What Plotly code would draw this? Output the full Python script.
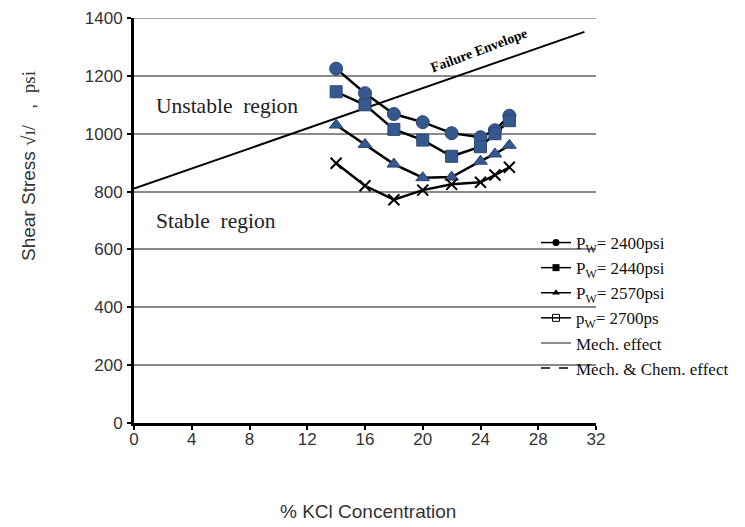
import plotly.graph_objects as go

kcl = [14, 16, 18, 20, 22, 24, 25, 26]
pw2400 = [1225, 1140, 1068, 1040, 1002, 988, 1012, 1062]
pw2440 = [1145, 1100, 1015, 978, 922, 955, 1000, 1045]
pw2570 = [1030, 963, 895, 848, 850, 905, 930, 960]
pw2700 = [898, 820, 772, 805, 825, 832, 857, 884]
env_x = [0, 31.2]
env_y = [810, 1352]

x_ticks = [0, 4, 8, 12, 16, 20, 24, 28, 32]
y_ticks = [0, 200, 400, 600, 800, 1000, 1200, 1400]

L, R, T, B = 134, 149, 18, 104
W, H = 745, 527
pw = W - L - R
ph = H - T - B

fig = go.Figure()

blue = "#35598F"
fig.add_trace(go.Scatter(x=env_x, y=env_y, mode="lines", line=dict(color="black", width=2), showlegend=False))
for ys, sym, sz in [(pw2400, "circle", 13), (pw2440, "square", 12), (pw2570, "triangle-up", 12)]:
    fig.add_trace(go.Scatter(x=kcl, y=ys, mode="lines+markers", showlegend=False,
                             line=dict(color="black", width=2.5),
                             marker=dict(symbol=sym, size=sz, color=blue, line=dict(color="#2a4670", width=1))))
fig.add_trace(go.Scatter(x=kcl, y=pw2700, mode="lines+markers", showlegend=False,
                         line=dict(color="black", width=2.5),
                         marker=dict(symbol="x-thin", size=11, color="black", line=dict(color="black", width=2))))

# legend entries
leg = [("P<sub>W</sub>= 2400psi", "circle"),
       ("P<sub>W</sub>= 2440psi", "square"),
       ("P<sub>W</sub>= 2570psi", "triangle-up"),
       ("p<sub>W</sub>= 2700ps", "square-open")]
for name, sym in leg:
    fig.add_trace(go.Scatter(x=[None], y=[None], mode="lines+markers", name=name,
                             line=dict(color="black", width=1.5),
                             marker=dict(symbol=sym, size=7, color="black")))
fig.add_trace(go.Scatter(x=[None], y=[None], mode="lines", name="Mech. effect",
                         line=dict(color="#888888", width=2)))
fig.add_trace(go.Scatter(x=[None], y=[None], mode="lines", name="Mech. &amp; Chem. effect",
                         line=dict(color="black", width=1.5, dash="dash")))

fig.update_layout(
    width=W, height=H, margin=dict(l=L, r=R, t=T, b=B, autoexpand=False),
    plot_bgcolor="white", paper_bgcolor="white",
    font=dict(family="Liberation Sans, Arial", size=17, color="#333333"),
    legend=dict(x=(536 - L) / pw, y=(423 - 225) / ph, xanchor="left", yanchor="top",
                bgcolor="rgba(0,0,0,0)", tracegroupgap=0, itemwidth=30,
                font=dict(family="Liberation Serif, Times New Roman", size=17, color="#111111")),
    xaxis=dict(range=[0, 32], tickvals=x_ticks, showgrid=False, zeroline=False,
               showline=True, linecolor="black", linewidth=3, ticks="outside",
               ticklen=4, tickwidth=2, tickcolor="black", ticklabelstandoff=0, fixedrange=True),
    yaxis=dict(range=[0, 1400], tickvals=y_ticks, showgrid=True, gridcolor="#8a8a8a",
               gridwidth=1.5, zeroline=False, showline=True, linecolor="black", linewidth=3,
               ticks="outside", ticklen=4, tickwidth=2, tickcolor="black", ticklabelstandoff=1),
)
try:
    fig.update_xaxes(ticklabelstandoff=-5)
except Exception:
    pass

fig.add_shape(type="line", xref="x", yref="y", x0=0, x1=32, y0=1400, y1=1400,
              line=dict(color="#8a8a8a", width=1.5), layer="below")

serif = "Liberation Serif, Times New Roman"
fig.add_annotation(text="Shear Stress <span style='font-family:Liberation Serif'>√ı/</span>   ,  "
                        "<span style='font-family:Liberation Serif'>psi</span>",
                   xref="paper", yref="paper", xanchor="center", yanchor="middle",
                   x=(28 - L) / pw, y=(423 - 166) / ph, textangle=-90, showarrow=False,
                   font=dict(size=19, color="#333333"))
fig.add_annotation(text="% KCl Concentration", xref="paper", yref="paper",
                   xanchor="center", yanchor="middle",
                   x=(368 - L) / pw, y=(423 - 511) / ph, showarrow=False,
                   font=dict(size=19, color="#333333"))
fig.add_annotation(text="Unstable  region", x=1.4, y=1095, xanchor="left", showarrow=False,
                   font=dict(family=serif, size=21.5, color="#222222"))
fig.add_annotation(text="Stable  region", x=1.4, y=698, xanchor="left", showarrow=False,
                   font=dict(family=serif, size=21.5, color="#222222"))
fig.add_annotation(text="<b>Failure Envelope</b>", x=23.9, y=1288, textangle=-20.5, showarrow=False,
                   font=dict(family=serif, size=14, color="black"))

fig.write_html("out.html")
